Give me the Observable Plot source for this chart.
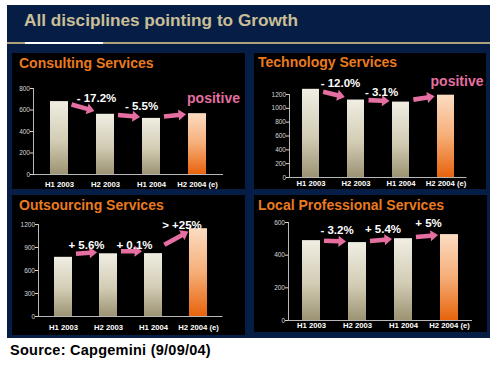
<!DOCTYPE html>
<html><head><meta charset="utf-8">
<script src="https://cdn.jsdelivr.net/npm/d3@7"></script>
<script src="https://cdn.jsdelivr.net/npm/@observablehq/plot@0.6"></script>
<style>
html,body{margin:0;padding:0;background:#fff;width:500px;height:368px;overflow:hidden;font-family:"Liberation Sans",Arial,sans-serif;}
#frame{position:absolute;left:7px;top:5px;width:483px;height:333px;background:#061e46;}
#title{position:absolute;left:24px;top:11.6px;color:#c9be97;font-weight:bold;font-size:17.2px;line-height:17px;white-space:nowrap;}
#rule{position:absolute;left:7px;top:42px;width:483px;height:1.5px;background:#aea27c;}
#rule2{position:absolute;left:25px;top:42px;width:78px;height:1.5px;background:#ffffff;}
.panel{position:absolute;}
.ptitle{position:absolute;color:#ea7a1f;font-weight:bold;font-size:14px;line-height:14px;white-space:nowrap;}
#source{position:absolute;left:10px;top:343px;font-weight:bold;font-size:14.5px;letter-spacing:0.25px;line-height:14px;color:#000;white-space:nowrap;}
</style></head>
<body>
<div id="frame"></div>
<div id="title">All disciplines pointing to Growth</div>
<div id="rule"></div><div id="rule2"></div>
<div id="source">Source: Capgemini (9/09/04)</div>
<script>
// ---- data ----
const periods = ["H1 2003", "H2 2003", "H1 2004", "H2 2004 (e)"];
const estimated = [false, false, false, true];

const consultingTitle = "Consulting Services";
const consultingValues = [678, 560, 522, 566];
const consultingChanges = ["- 17.2%", "- 5.5%", "positive"];
const consultingTicks = [0, 200, 400, 600, 800];

const technologyTitle = "Technology Services";
const technologyValues = [1275, 1120, 1090, 1190];
const technologyChanges = ["- 12.0%", "- 3.1%", "positive"];
const technologyTicks = [0, 200, 400, 600, 800, 1000, 1200];

const outsourcingTitle = "Outsourcing Services";
const outsourcingValues = [772, 818, 820, 1145];
const outsourcingChanges = ["+ 5.6%", "+ 0.1%", "> +25%"];
const outsourcingTicks = [0, 300, 600, 900, 1200];

const localTitle = "Local Professional Services";
const localValues = [489, 477, 501, 526];
const localChanges = ["- 3.2%", "+ 5.4%", "+ 5%"];
const localTicks = [0, 200, 400, 600];

// ---- layout ----
const FONT = '"Liberation Sans", Arial, sans-serif';
const PINK = "#e46fa0";

const panels = [
  {id: "c", title: consultingTitle, values: consultingValues, changes: consultingChanges, ticks: consultingTicks,
   left: 12, top: 53, w: 233, h: 136, ml: 21, mr: 22, mt: 35, mb: 15, pi: 0.61, po: 0.37, tp: 7.5,
   ldx: [-9, -10, 16], ldy: [0, -4, -11], ady: 0, tx: 19, ty: 56},
  {id: "t", title: technologyTitle, values: technologyValues, changes: technologyChanges, ticks: technologyTicks,
   left: 254, top: 53, w: 232, h: 136, ml: 35, mr: 19.5, mt: 41, mb: 12, pi: 0.617, po: 0.25, tp: 3.5,
   ldx: [-15.5, -19.5, 11], ldy: [-2, -4.5, -9], ady: 0, tx: 258, ty: 55},
  {id: "o", title: outsourcingTitle, values: outsourcingValues, changes: outsourcingChanges, ticks: outsourcingTicks,
   left: 12, top: 195, w: 233, h: 140, ml: 26, mr: 22.5, mt: 29, mb: 19, pi: 0.604, po: 0.33, tp: 8.5,
   ldx: [-22, -19, -16.5], ldy: [-5, -5, 0], ady: -2, tx: 19, ty: 198},
  {id: "l", title: localTitle, values: localValues, changes: localChanges, ticks: localTicks,
   left: 254, top: 195, w: 233, h: 137, ml: 34, mr: 15, mt: 27, mb: 12, pi: 0.604, po: 0.27, tp: 2.5,
   ldx: [-20.5, -20.5, -21], ldy: [-7, -6, -8], ady: 0, tx: 258, ty: 198}
];

function makeDefs(id) {
  return () => {
    const defs = d3.create("svg:defs");
    const g1 = defs.append("linearGradient").attr("id", "cream-" + id)
      .attr("x1", 0).attr("y1", 0).attr("x2", 0).attr("y2", 1);
    g1.append("stop").attr("offset", "0%").attr("stop-color", "#f0eee3");
    g1.append("stop").attr("offset", "55%").attr("stop-color", "#d2ccb4");
    g1.append("stop").attr("offset", "100%").attr("stop-color", "#9c9373");
    const g2 = defs.append("linearGradient").attr("id", "orange-" + id)
      .attr("x1", 0).attr("y1", 0).attr("x2", 0).attr("y2", 1);
    g2.append("stop").attr("offset", "0%").attr("stop-color", "#fcdcc2");
    g2.append("stop").attr("offset", "50%").attr("stop-color", "#f6ae78");
    g2.append("stop").attr("offset", "100%").attr("stop-color", "#e7630c");
    return defs.node();
  };
}

// Filled block arrows positioned through the plot's x (band) and y scales
function blockArrows(changes, {insetStart = 13, insetEnd = 11, shaft = 4.6, headLen = 7.5, headHalf = 5.6, dy = 0, fill = PINK} = {}) {
  return (index, scales) => {
    const x = scales.x, y = scales.y;
    const bw = typeof x.bandwidth === "function" ? x.bandwidth() : (x.bandwidth || 0);
    const g = d3.create("svg:g").attr("fill", fill);
    for (const c of changes) {
      const ax = x(c.from) + bw / 2, ay = y(c.v1) + dy;
      const bx = x(c.to) + bw / 2, by = y(c.v2) + dy;
      const len = Math.hypot(bx - ax, by - ay);
      const ux = (bx - ax) / len, uy = (by - ay) / len;
      const nx = -uy, ny = ux;
      const sx = ax + ux * insetStart, sy = ay + uy * insetStart;
      const ex = bx - ux * insetEnd, ey = by - uy * insetEnd;
      const hx = ex - ux * headLen, hy = ey - uy * headLen;
      const w = shaft / 2;
      const pts = [
        [sx + nx * w, sy + ny * w], [hx + nx * w, hy + ny * w], [hx + nx * headHalf, hy + ny * headHalf],
        [ex, ey],
        [hx - nx * headHalf, hy - ny * headHalf], [hx - nx * w, hy - ny * w], [sx - nx * w, sy - ny * w]
      ];
      g.append("path").attr("d", "M" + pts.map(p => p[0].toFixed(2) + "," + p[1].toFixed(2)).join("L") + "Z");
    }
    return g.node();
  };
}

for (const p of panels) {
  const data = periods.map((period, i) => ({period, value: p.values[i], est: estimated[i]}));
  const changes = p.changes.map((label, i) => ({
    from: periods[i], to: periods[i + 1],
    v1: p.values[i], v2: p.values[i + 1],
    top: Math.max(p.values[i], p.values[i + 1]),
    label, word: !/\d/.test(label)
  }));
  const max = p.ticks[p.ticks.length - 1];
  const textMarks = changes.map((c, i) => Plot.text([c], {
    x: "to", y: "top", text: "label", dx: p.ldx[i], dy: p.ldy[i],
    lineAnchor: "bottom", textAnchor: "middle",
    fill: c.word ? PINK : "#ffffff",
    fontSize: c.word ? 14 : 11.5, fontWeight: "bold", fontFamily: FONT
  }));
  const chart = Plot.plot({
    width: p.w, height: p.h,
    marginLeft: p.ml, marginRight: p.mr, marginTop: p.mt, marginBottom: p.mb,
    style: {background: "#000", color: "#fff", fontFamily: FONT, overflow: "visible"},
    x: {domain: periods, paddingInner: p.pi, paddingOuter: p.po, label: null},
    y: {domain: [0, max], label: null},
    marks: [
      makeDefs(p.id),
      Plot.barY(data, {filter: d => !d.est, x: "period", y: "value", fill: "url(#cream-" + p.id + ")"}),
      Plot.barY(data, {filter: d => d.est, x: "period", y: "value", fill: "url(#orange-" + p.id + ")"}),
      Plot.frame({anchor: "left", stroke: "#b8b8b8", strokeWidth: 1}),
      Plot.ruleY([0], {stroke: "#b8b8b8", strokeWidth: 1}),
      Plot.axisY(p.ticks, {tickSize: 3, tickPadding: 0.5, fontSize: 6.5, color: "#d8d8d8", label: null, tickFormat: d => String(d)}),
      Plot.axisX({tickSize: 0, tickPadding: p.tp, fontSize: 7.7, fontWeight: "bold", color: "#ffffff", label: null}),
      blockArrows(changes, {dy: p.ady}),
      ...textMarks
    ]
  });
  const div = document.createElement("div");
  div.className = "panel";
  div.style.left = p.left + "px";
  div.style.top = p.top + "px";
  div.style.width = p.w + "px";
  div.style.height = p.h + "px";
  div.appendChild(chart);
  document.body.appendChild(div);
  const t = document.createElement("div");
  t.className = "ptitle";
  t.textContent = p.title;
  t.style.left = p.tx + "px";
  t.style.top = p.ty + "px";
  document.body.appendChild(t);
}
</script>
</body></html>
